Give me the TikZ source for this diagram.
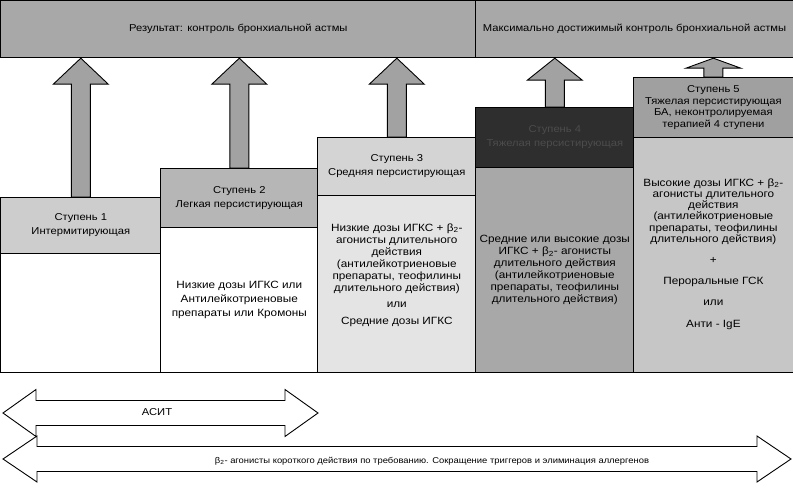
\documentclass[tikz,border=0pt]{standalone}
\usepackage{fontspec}
\setmainfont{Liberation Sans}[FakeStretch=1.12]
\usetikzlibrary{calc}
\definecolor{topgray}{HTML}{A8A8A8}
\definecolor{arrgray}{HTML}{A2A2A2}
\definecolor{hA}{HTML}{CDCDCD}
\definecolor{hB}{HTML}{B6B6B6}
\definecolor{hC}{HTML}{D4D4D4}
\definecolor{bC}{HTML}{E4E4E4}
\definecolor{hD}{HTML}{2E2E2E}
\definecolor{bD}{HTML}{A8A8A8}
\definecolor{hE}{HTML}{A0A0A0}
\definecolor{bE}{HTML}{C6C6C6}
\definecolor{dimtext}{HTML}{4C4C4C}
\newcommand\blockup[3]{%
  \draw[blockarr] let \p1=(#1.north), \p2=(#2) in
  (\x1-9.5pt,\y1) -- (\x1-9.5pt,\y2-#3) -- (\x1-27.5pt,\y2-#3) -- (\x1,\y2)
  -- (\x1+27.5pt,\y2-#3) -- (\x1+9.5pt,\y2-#3) -- (\x1+9.5pt,\y1) -- cycle;}
\newcommand\dblarrow[5]{%
  \draw[dblarr] let \p1=(#1), \p2=(#2) in
  (\x1,\y1) -- (\x1+#3,\y1+#5) -- (\x1+#3,\y1+#4) -- (\x2-#3,\y1+#4) -- (\x2-#3,\y1+#5)
  -- (\x2,\y1) -- (\x2-#3,\y1-#5) -- (\x2-#3,\y1-#4) -- (\x1+#3,\y1-#4) -- (\x1+#3,\y1-#5) -- cycle;}
\newcommand\btwo{β\textsubscript{2}}
\begin{document}
\begin{tikzpicture}[x=1pt,y=-1pt,line width=0.8pt,
  box/.style={draw=black,inner sep=0pt,anchor=north west,align=center},
  hdr/.style={box,font=\fontsize{10}{14}\selectfont},
  body/.style={box,fill=white},
  btext/.style={align=center,inner sep=0pt,font=\fontsize{10.5}{12}\selectfont},
  blockarr/.style={draw=black,fill=arrgray,line width=0.9pt,line join=miter},
  dblarr/.style={draw=black,fill=white,line width=0.9pt,line join=miter}]
\useasboundingbox (0,0) rectangle (793,489);
% top bars
\node[box,fill=topgray,minimum width=475pt,minimum height=57pt,font=\fontsize{10}{12}\selectfont] (t1) at (0.4,0.4) {Результат: контроль бронхиальной астмы};
\node[box,fill=topgray,minimum width=317.6pt,minimum height=57pt,font=\fontsize{10}{12}\selectfont] (t2) at (475.4,0.4) {Максимально достижимый контроль бронхиальной астмы};
% columns: bodies
\node[body,minimum width=160pt,minimum height=119pt] (b1) at (0.4,253) {};
\node[body,minimum width=157pt,minimum height=145pt] (b2) at (160.4,227) {};
\node[body,fill=bC,minimum width=158pt,minimum height=177pt] (b3) at (317.4,195) {};
\node[body,fill=bD,minimum width=158pt,minimum height=205pt] (b4) at (475.4,167) {};
\node[body,fill=bE,minimum width=159.2pt,minimum height=235pt] (b5) at (633.4,137) {};
% headers
\node[hdr,fill=hA,minimum width=160pt,minimum height=56pt] (h1) at (0.4,197) {Ступень 1\\Интермитирующая};
\node[hdr,fill=hB,minimum width=157pt,minimum height=59pt] (h2) at (160.4,168) {Ступень 2\\Легкая персистирующая};
\node[hdr,fill=hC,minimum width=158pt,minimum height=58pt] (h3) at (317.4,137) {Ступень 3\\Средняя персистирующая};
\node[hdr,fill=hD,text=dimtext,minimum width=158pt,minimum height=60pt] (h4) at (475.4,107) {Ступень 4\\Тяжелая персистирующая};
\node[hdr,fill=hE,minimum width=159.2pt,minimum height=60pt,font=\fontsize{10}{11.5}\selectfont] (h5) at (633.4,77) {Ступень 5\\Тяжелая персистирующая\\БА, неконтролируемая\\терапией 4 ступени};
% up arrows
\blockup{h1}{t1.south}{26pt}
\blockup{h2}{t1.south}{26pt}
\blockup{h3}{t1.south}{26pt}
\blockup{h4}{t2.south}{22pt}
\blockup{h5}{t2.south}{10pt}
% body texts
\node[btext,font=\fontsize{10.5}{14}\selectfont] (x2) at (b2.center) {Низкие дозы ИГКС или\\Антилейкотриеновые\\препараты или Кромоны};
\node[btext] (x3) at ($(b3.center)+(0,-9)$) {Низкие дозы ИГКС + \btwo-\\агонисты длительного\\действия\\(антилейкотриеновые\\препараты, теофилины\\длительного действия)\\[4pt]или\\[5pt]Средние дозы ИГКС};
\node[btext] (x4) at (b4.center) {Средние или высокие дозы\\ИГКС + \btwo- агонисты\\длительного действия\\(антилейкотриеновые\\препараты, теофилины\\длительного действия)};
\node[btext,font=\fontsize{10.5}{11.2}\selectfont] (x5) at ($(b5.center)+(0,-1)$) {Высокие дозы ИГКС + \btwo-\\агонисты длительного\\действия\\(антилейкотриеновые\\препараты, теофилины\\длительного действия)\\[10pt]+\\[10pt]Пероральные ГСК\\[10pt]или\\[10pt]Анти - IgE};
% bottom double arrows
\coordinate (a1l) at (3,413);
\coordinate (a1r) at (318,413);
\coordinate (a2l) at (3,459);
\coordinate (a2r) at (791,459);
\dblarrow{a1l}{a1r}{33pt}{12.5pt}{23.5pt}
\dblarrow{a2l}{a2r}{34pt}{12.5pt}{23pt}
\node[font=\fontsize{10}{12}\selectfont] (asit) at (157,412) {АСИТ};
\node[font=\fontsize{8.4}{10}\selectfont] (bagon) at (432,461) {\btwo- агонисты короткого действия по требованию. Сокращение триггеров и элиминация аллергенов};
\end{tikzpicture}
\end{document}
